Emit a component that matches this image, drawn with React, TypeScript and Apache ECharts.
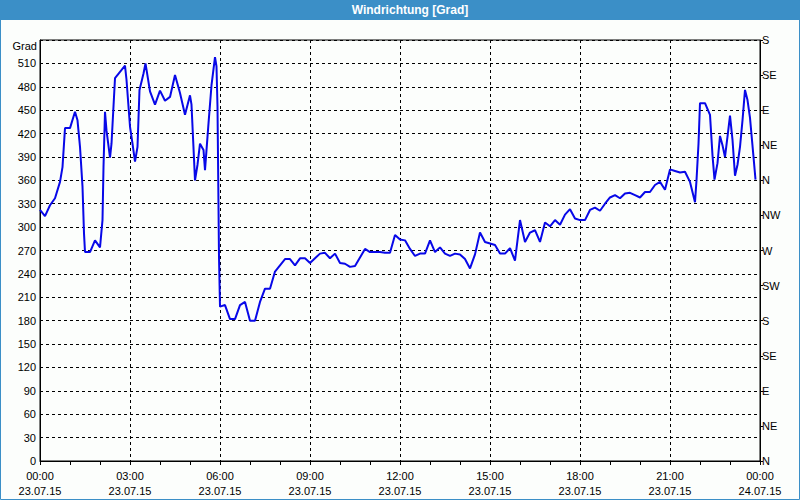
import React, { useEffect, useRef } from "react";
import * as echarts from "echarts";

const minutes = [
  0, 10, 20, 30, 40, 45, 50, 60, 70, 75, 80, 85, 88, 90, 100, 110, 120, 125, 127, 130,
  133, 140, 143, 150, 160, 170, 173, 180, 185, 190, 195, 199, 207, 211, 220, 230, 240, 250, 260, 270,
  280, 290, 300, 303, 310, 315, 320, 327, 330, 337, 343, 350, 353, 355, 357, 358, 360, 370, 380, 390,
  400, 410, 420, 430, 440, 450, 460, 470, 480, 490, 500, 510, 520, 530, 540, 550, 560, 570, 580, 590,
  600, 610, 620, 630, 640, 650, 660, 670, 680, 690, 700, 710, 720, 730, 740, 750, 760, 770, 780, 790,
  800, 810, 820, 830, 840, 850, 860, 870, 880, 890, 900, 910, 920, 930, 940, 950, 960, 970, 980, 990,
  1000, 1010, 1020, 1030, 1040, 1050, 1060, 1070, 1080, 1090, 1100, 1110, 1120, 1130, 1140, 1150, 1160, 1170, 1180, 1190,
  1200, 1210, 1220, 1230, 1240, 1250, 1260, 1270, 1280, 1290, 1300, 1310, 1313, 1317, 1320, 1330, 1340, 1345, 1349, 1355,
  1360, 1365, 1370, 1375, 1380, 1385, 1390, 1395, 1400, 1405, 1410, 1415, 1420, 1427, 1431,
];

const degrees = [
  322, 314, 328, 337, 358, 377, 427, 427, 448, 437, 403, 352, 292, 268, 268, 283, 274, 309, 377, 448,
  424, 389, 407, 491, 499, 507, 489, 429, 407, 384, 403, 476, 497, 510, 474, 457, 475, 462, 467, 495,
  472, 444, 469, 457, 360, 380, 407, 399, 373, 433, 482, 518, 506, 454, 326, 262, 198, 200, 182, 182,
  200, 204, 180, 180, 204, 221, 221, 243, 251, 259, 259, 251, 260, 260, 254, 260, 266, 267, 260, 266,
  254, 253, 249, 250, 261, 272, 268, 268, 268, 267, 267, 290, 284, 283, 272, 263, 266, 266, 283, 268,
  274, 266, 263, 266, 265, 259, 247, 265, 293, 281, 279, 277, 266, 266, 273, 257, 309, 281, 293, 296,
  281, 306, 301, 309, 303, 316, 323, 311, 309, 309, 322, 325, 321, 330, 338, 341, 337, 343, 344, 341,
  338, 345, 345, 354, 358, 348, 374, 372, 370, 371, 358, 332, 360, 407, 459, 459, 444, 392, 361, 382,
  417, 405, 390, 416, 443, 412, 366, 380, 403, 437, 476, 463, 440, 390, 361,
];

const xTickTimes = ["00:00", "03:00", "06:00", "09:00", "12:00", "15:00", "18:00", "21:00", "00:00"];
const xTickDates = ["23.07.15", "23.07.15", "23.07.15", "23.07.15", "23.07.15", "23.07.15", "23.07.15", "23.07.15", "24.07.15"];
const directionLabels = ["N", "NE", "E", "SE", "S", "SW", "W", "NW", "N", "NE", "E", "SE", "S"];

const FONT = "Liberation Sans";
const BLUE_BAR = "#3b8fc7";

export default function App() {
  const ref = useRef<HTMLDivElement>(null);

  useEffect(() => {
    if (!ref.current) return;
    const chart = echarts.init(ref.current, undefined, { renderer: "svg" });
    const data = minutes.map((m, i) => [m, degrees[i]]);
    chart.setOption({
      animation: false,
      backgroundColor: "#fcfefc",
      textStyle: { fontFamily: FONT },
      grid: {
        left: 40,
        right: 40,
        top: 40,
        bottom: 39,
        show: true,
        borderColor: "#000",
        borderWidth: 1,
        backgroundColor: "transparent",
      },
      graphic: [
        { type: "rect", left: 0, top: 0, shape: { width: 800, height: 20 }, style: { fill: BLUE_BAR }, silent: true },
        {
          type: "text",
          x: 410,
          y: 10,
          style: {
            text: "Windrichtung [Grad]",
            fill: "#fff",
            font: `bold 12px "${FONT}"`,
            textAlign: "center",
            textVerticalAlign: "middle",
          },
        },
        {
          type: "rect",
          shape: { x: 0.5, y: 0.5, width: 799, height: 499 },
          style: { fill: "none", stroke: BLUE_BAR, lineWidth: 1 },
          silent: true,
        },
        {
          type: "text",
          x: 37,
          y: 46,
          style: {
            text: "Grad",
            fill: "#000",
            font: `11px "${FONT}"`,
            textAlign: "right",
            textVerticalAlign: "middle",
          },
        },
      ],
      xAxis: {
        type: "value",
        min: 0,
        max: 1440,
        interval: 180,
        axisLine: { show: true, lineStyle: { color: "#000", width: 1 } },
        axisTick: { show: true, length: 4, lineStyle: { color: "#000" } },
        minorTick: { show: true, splitNumber: 3, length: 4, lineStyle: { color: "#000" } },
        splitLine: { show: true, lineStyle: { color: "#000", type: [3, 3], width: 1 } },
        axisLabel: {
          color: "#000",
          fontSize: 11,
          fontFamily: FONT,
          lineHeight: 15,
          margin: 7,
          formatter: (v: number) => {
            const i = Math.round(v / 180);
            return `${xTickTimes[i]}\n${xTickDates[i]}`;
          },
        },
      },
      yAxis: [
        {
          type: "value",
          min: 0,
          max: 540,
          interval: 30,
          position: "left",
          axisLine: { show: true, lineStyle: { color: "#000" } },
          axisTick: { show: false },
          splitLine: { show: true, lineStyle: { color: "#000", type: [3, 3], width: 1 } },
          axisLabel: {
            color: "#000",
            fontSize: 11,
            fontFamily: FONT,
            margin: 4,
            showMaxLabel: false,
            formatter: (v: number) => (v >= 540 ? "" : String(v)),
          },
        },
        {
          type: "value",
          min: 0,
          max: 540,
          interval: 45,
          position: "right",
          axisLine: { show: true, lineStyle: { color: "#000" } },
          axisTick: { show: true, length: 3, lineStyle: { color: "#000" } },
          splitLine: { show: false },
          axisLabel: {
            color: "#000",
            fontSize: 11,
            fontFamily: FONT,
            margin: 2,
            formatter: (v: number) => directionLabels[Math.round(v / 45)],
          },
        },
      ],
      series: [
        {
          type: "line",
          yAxisIndex: 0,
          data,
          showSymbol: false,
          lineStyle: { color: "#0808e8", width: 2 },
          z: 5,
        },
      ],
    });
    return () => chart.dispose();
  }, []);

  return (
    <div
      ref={ref}
      style={{ position: "fixed", left: 0, top: 0, width: 800, height: 500 }}
    />
  );
}
